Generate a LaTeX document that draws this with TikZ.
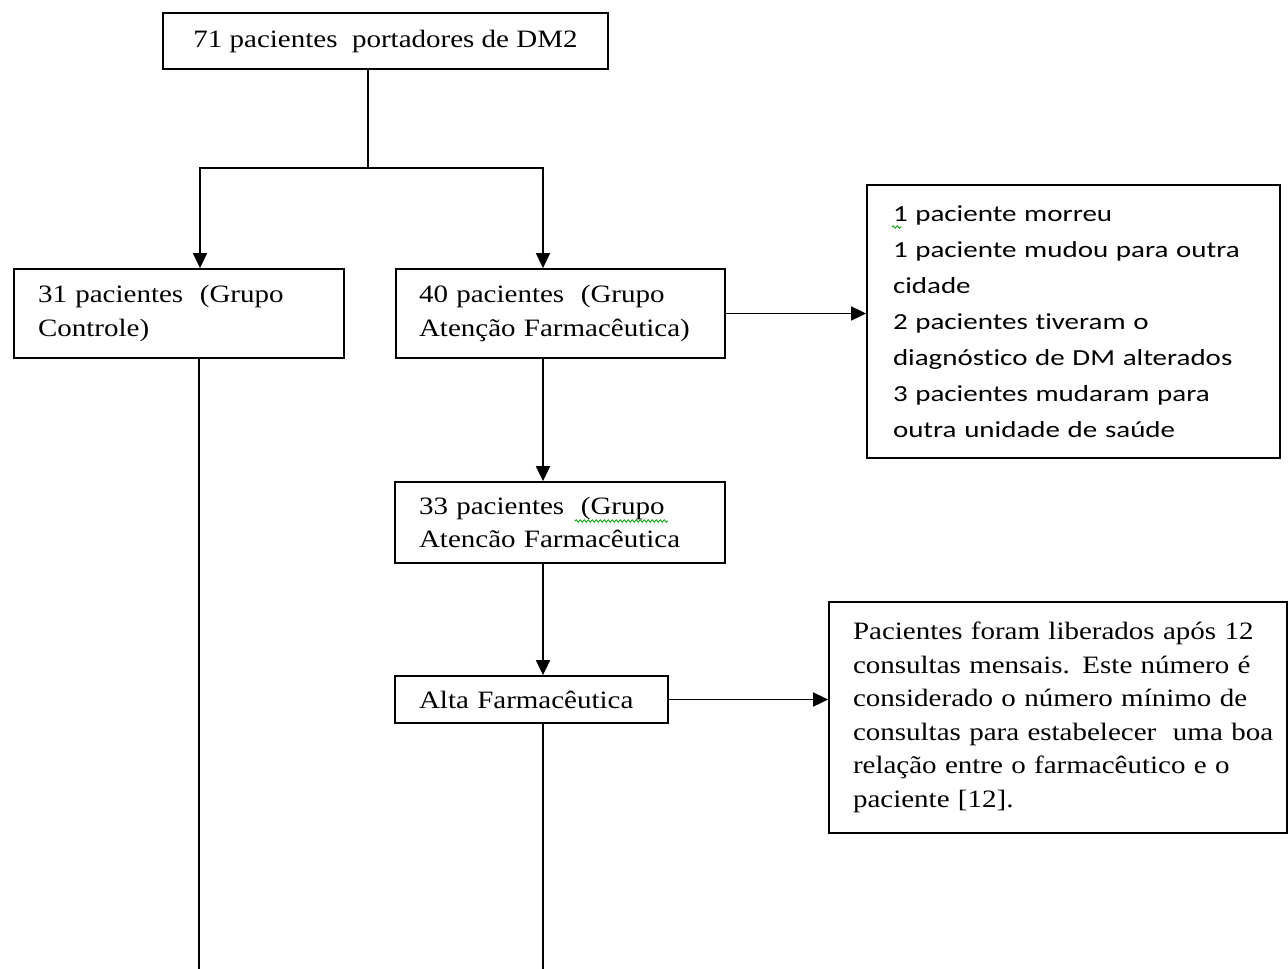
\documentclass[tikz,border=0pt]{standalone}
\usepackage{fontspec}
\setmainfont{Liberation Serif}[FakeStretch=1.16]
\newfontfamily\calib{Carlito}[FakeStretch=1.26, Ligatures=NoCommon]
\usetikzlibrary{arrows.meta,decorations.pathmorphing}
\newcommand\li[1]{\mbox{#1}}
\tikzset{
  box/.style={draw=black, line width=1.8pt, rectangle, inner ysep=0pt, align=left,
    font=\fontsize{25}{33.5}\selectfont},
  sbox/.style={box, font=\calib\fontsize{23}{36}\selectfont},
  conn/.style={line width=1.8pt, draw=black},
  arr/.style={conn, -{Triangle[length=15pt,width=14pt]}},
  squig/.style={draw=green!60!black, line width=0.8pt, decorate,
    decoration={snake, amplitude=1.2pt, segment length=4pt}}
}
\begin{document}
\begin{tikzpicture}[x=1pt,y=-1pt]
\useasboundingbox (0,0) rectangle (1288,969);
\node[box, minimum width=445pt, minimum height=56pt, align=center, inner xsep=0pt] (top) at (385.5,41) {71 pacientes\ \ portadores de DM2};
\node[box, minimum width=330pt, minimum height=89pt, text width=282pt, inner xsep=24pt] (ctl) at (179,313.5) {\li{31 pacientes\ \ (Grupo}\\\li{Controle)}};
\node[box, minimum width=329pt, minimum height=89pt, text width=283pt, inner xsep=23pt] (af40) at (560.5,313.5) {\li{40 pacientes\ \ (Grupo}\\\li{Atenção Farmacêutica)}};
\node[sbox, minimum width=413pt, minimum height=273pt, text width=361pt, inner xsep=26pt] (excl) at (1073.5,321.5) {\li{1 paciente morreu}\\\li{1 paciente mudou para outra}\\\li{cidade}\\\li{2 pacientes tiveram o}\\\li{diagnóstico de DM alterados}\\\li{3 pacientes mudaram para}\\\li{outra unidade de saúde}};
\node[box, minimum width=330pt, minimum height=81pt, text width=282pt, inner xsep=24pt] (af33) at (560,522.5) {\li{33 pacientes\ \ (Grupo}\\\li{Atencão Farmacêutica}};
\node[box, minimum width=273pt, minimum height=47pt, text width=225pt, inner xsep=24pt] (alta) at (531.5,699.5) {\li{Alta Farmacêutica}};
\node[box, minimum width=458pt, minimum height=231pt, text width=410pt, inner xsep=24pt] (note) at (1058,717.5) {\li{Pacientes foram liberados após 12}\\\li{consultas mensais. Este número é}\\\li{considerado o número mínimo de}\\\li{consultas para estabelecer\ \ uma boa}\\\li{relação entre o farmacêutico e o}\\\li{paciente [12].}};
\coordinate (split) at (368,168);
\coordinate (lj) at (200,168);
\coordinate (rj) at (543,168);
\coordinate (lend) at (199,969);
\coordinate (rend) at (543,969);
\draw[conn] (split |- top.south) -- (split);
\draw[arr] (split) -| (lj |- ctl.north);
\draw[arr] (split) -| (rj |- af40.north);
\draw[arr] (af40.east) -- (af40.east -| excl.west);
\draw[conn] (lend |- ctl.south) -- (lend);
\draw[arr] (rj |- af40.south) -- (rj |- af33.north);
\draw[arr] (rj |- af33.south) -- (rj |- alta.north);
\draw[arr] (alta.east) -- (alta.east -| note.west);
\draw[conn] (rend |- alta.south) -- (rend);
\draw[squig] (892,227) -- (902,227);
\draw[squig] (575,521) -- (668,521);
\end{tikzpicture}
\end{document}
